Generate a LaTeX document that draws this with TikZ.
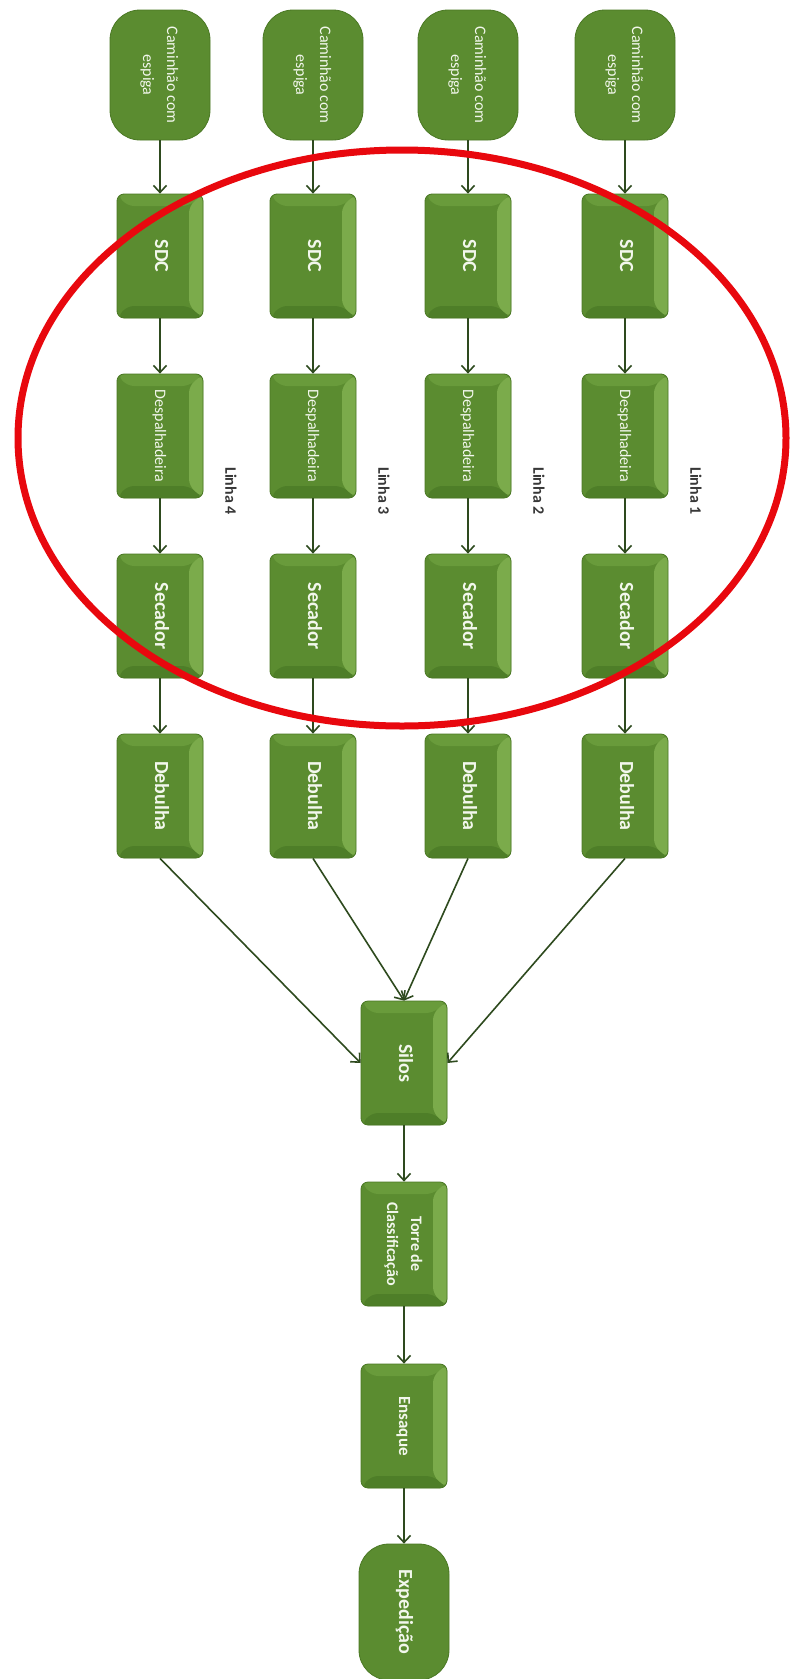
\documentclass[tikz,border=0pt]{standalone}
\usepackage{fontspec}
\setmainfont{Carlito}
\usepackage{graphicx}
\usetikzlibrary{arrows.meta}

\definecolor{boxgreen}{HTML}{5B8C30}
\definecolor{boxlight}{HTML}{7BAB4B}
\definecolor{boxtop}{HTML}{699B3B}
\definecolor{boxdark}{HTML}{4E7E28}
\definecolor{boxedge}{HTML}{4A7824}
\definecolor{boxtext}{HTML}{F2F7EC}
\definecolor{setacor}{HTML}{2E4A1E}
\definecolor{elipsecor}{HTML}{E8080E}

\newcommand{\vtxt}[1]{\rotatebox{-90}{\begin{tabular}{@{}c@{}}#1\end{tabular}}}
\newcommand{\fgrande}{\fontsize{20}{24}\selectfont\bfseries}
\newcommand{\fmedia}{\fontsize{16}{24}\selectfont}

\begin{document}
\begin{tikzpicture}[x=1pt, y=-1pt, >={Straight Barb[length=7pt,width=13pt]},
    etapa/.style={draw=boxedge, line width=0.8pt, fill=boxgreen, rounded corners=7pt,
        minimum width=86pt, minimum height=124pt, inner sep=0pt, text=boxtext,
        path picture={
            \fill[boxtop] (path picture bounding box.north west) -- (path picture bounding box.north east)
                -- ([xshift=-14pt,yshift=-12pt]path picture bounding box.north east)
                -- ([xshift=10pt,yshift=-12pt]path picture bounding box.north west) -- cycle;
            \fill[boxdark] (path picture bounding box.south west) -- (path picture bounding box.south east)
                -- ([xshift=-14pt,yshift=12pt]path picture bounding box.south east)
                -- ([xshift=10pt,yshift=12pt]path picture bounding box.south west) -- cycle;
            \fill[boxlight] (path picture bounding box.north east) -- (path picture bounding box.south east)
                -- ([xshift=-14pt,yshift=12pt]path picture bounding box.south east)
                -- ([xshift=-14pt,yshift=-12pt]path picture bounding box.north east) -- cycle;
        }},
    terminal/.style={draw=boxedge, line width=0.8pt, fill=boxgreen, rounded corners=30pt,
        minimum width=100pt, minimum height=130pt, inner sep=0pt, text=boxtext},
    seta/.style={->, draw=setacor, line width=1.6pt},
    linha/.style={text=black!78, font=\fontsize{16}{20}\selectfont\bfseries, inner sep=0pt},
    elipse/.style={draw=elipsecor, line width=7pt}]
    \fill[white] (0,0) rectangle (790,1679);
    \useasboundingbox (0,0) rectangle (790,1679);

    % quatro linhas de recebimento
    \foreach \i/\x in {1/625,2/468,3/313,4/160}{
        \node[terminal, font=\fmedia] (cam\i) at (\x,75) {\vtxt{Caminhão com\\espiga}};
        \node[etapa, font=\fgrande] (sdc\i) at (\x,256) {\vtxt{SDC}};
        \node[etapa, font=\fmedia] (desp\i) at (\x,436) {\vtxt{Despalhadeira}};
        \node[etapa, font=\fgrande] (sec\i) at (\x,616) {\vtxt{Secador}};
        \node[etapa, font=\fgrande] (deb\i) at (\x,796) {\vtxt{Debulha}};
        \node[linha] (linha\i) at (\x+71,491) {\rotatebox{-90}{Linha \i}};
        \draw[seta] (cam\i) -- (sdc\i);
        \draw[seta] (sdc\i) -- (desp\i);
        \draw[seta] (desp\i) -- (sec\i);
        \draw[seta] (sec\i) -- (deb\i);
    }

    % fluxo comum
    \node[etapa, font=\fgrande] (silos) at (404,1063) {\vtxt{Silos}};
    \node[etapa, font=\fontsize{16}{24}\selectfont\bfseries] (torre) at (404,1244) {\vtxt{Torre de\\Classificação}};
    \node[etapa, font=\fontsize{17}{24}\selectfont\bfseries] (ensaque) at (404,1426) {\vtxt{Ensaque}};
    \node[terminal, font=\fgrande, minimum width=90pt, minimum height=136pt] (exped) at (404,1612) {\vtxt{Expedição}};

    \draw[seta] (deb4.south) -- (silos.west);
    \draw[seta] (deb3.south) -- (silos.north);
    \draw[seta] (deb2.south) -- (silos.north);
    \draw[seta] (deb1.south) -- (silos.east);
    \draw[seta] (silos) -- (torre);
    \draw[seta] (torre) -- (ensaque);
    \draw[seta] (ensaque) -- (exped);

    \draw[elipse] (402,438) ellipse [x radius=384pt, y radius=288pt];
\end{tikzpicture}
\end{document}
